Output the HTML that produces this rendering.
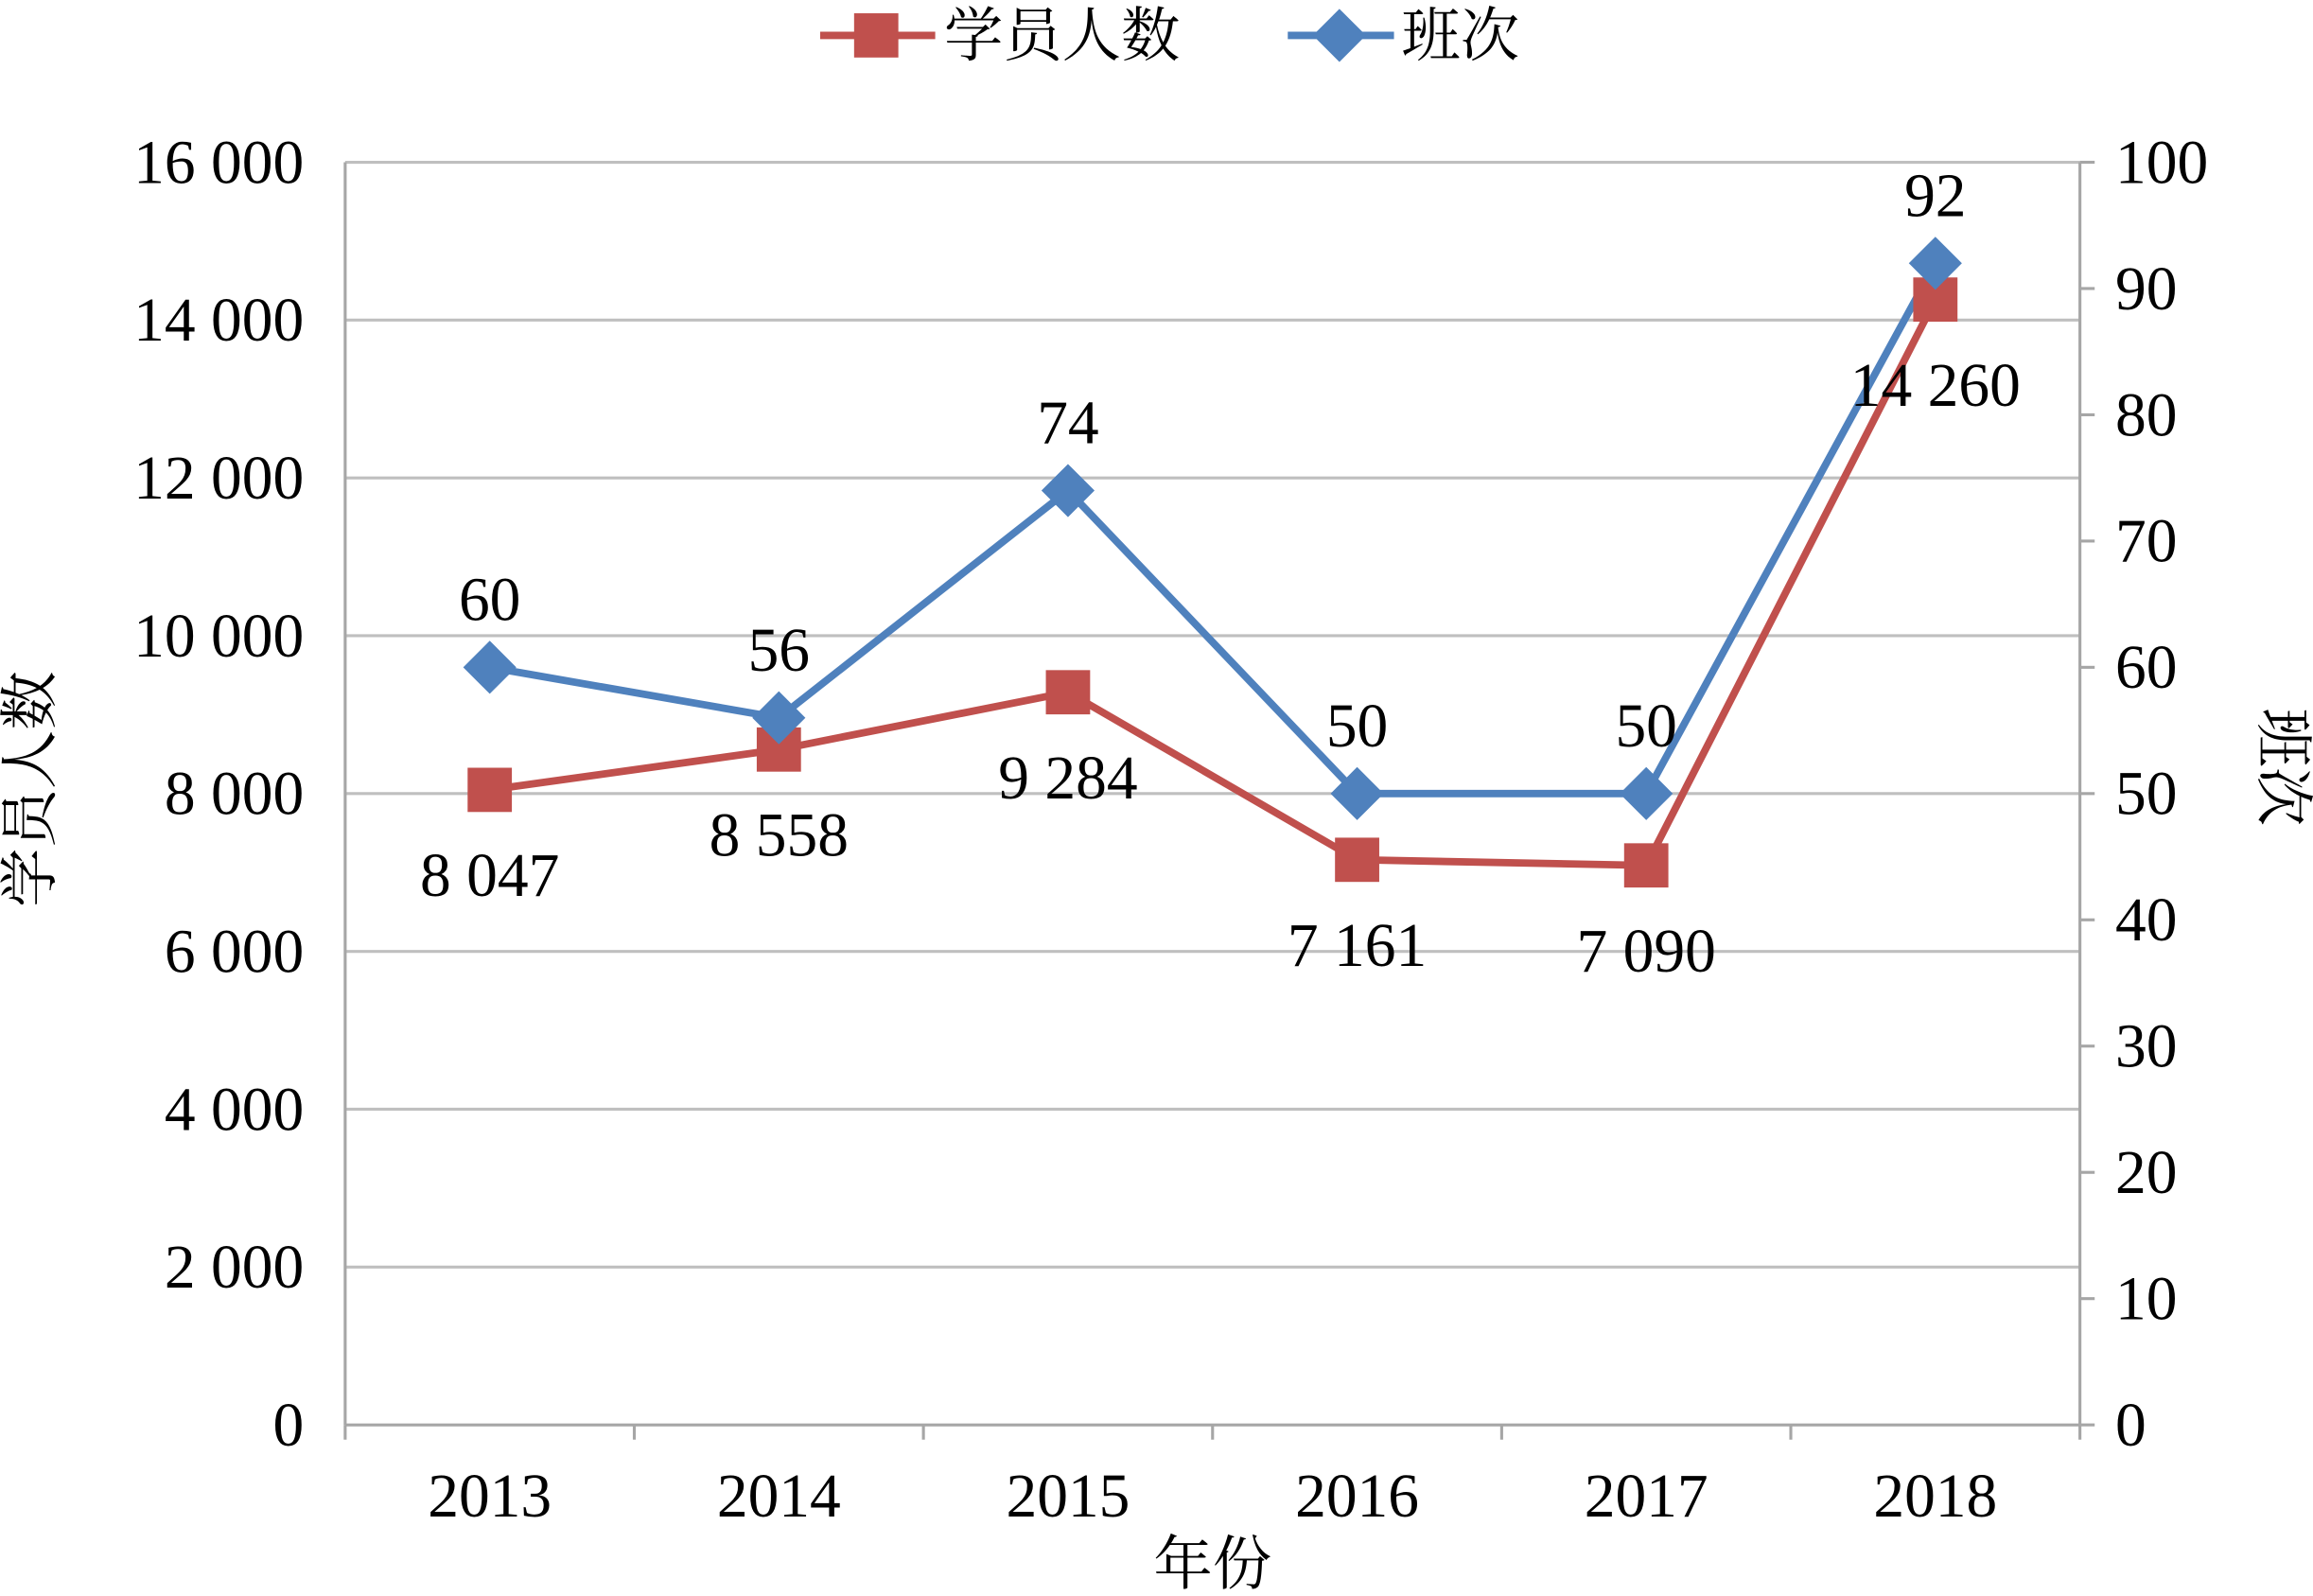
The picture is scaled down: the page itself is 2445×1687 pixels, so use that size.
<!DOCTYPE html>
<html><head><meta charset="utf-8"><style>
html,body{margin:0;padding:0;background:#fff;}
svg{display:block;}
text{font-family:"Liberation Serif","Noto Serif CJK SC",serif;fill:#000;}
</style></head><body>
<svg id="chart" width="2445" height="1687" viewBox="0 0 1568 1082" preserveAspectRatio="none" xmlns="http://www.w3.org/2000/svg">
<g id="grid"></g>
<g id="axes"></g>
<g id="series"></g>
<g id="labels"></g>
<g>
  <line x1="556" y1="24" x2="634" y2="24" stroke="#c0504d" stroke-width="5"/>
  <rect x="579" y="9" width="30" height="30" fill="#c0504d"/>
  <text x="640" y="38" font-size="40" font-family="Noto Serif CJK SC, serif">学员人数</text>
  <line x1="873" y1="24" x2="945" y2="24" stroke="#4f81bd" stroke-width="5"/>
  <polygon points="908,6 926,24 908,42 890,24" fill="#4f81bd"/>
  <text x="950" y="38" font-size="40" font-family="Noto Serif CJK SC, serif">班次</text>
</g>
<text x="34" y="535" font-size="40" text-anchor="middle" transform="rotate(-90 34 535)" font-family="Noto Serif CJK SC, serif">学员人数</text>
<text x="1534" y="520" font-size="40" text-anchor="middle" transform="rotate(90 1534 520)" font-family="Noto Serif CJK SC, serif">班次</text>
<text x="822" y="1074" font-size="40" text-anchor="middle" font-family="Noto Serif CJK SC, serif">年份</text>
</svg>
<script>
const years = ["2013","2014","2015","2016","2017","2018"];
const students = [8047, 8558, 9284, 7161, 7090, 14260];
const classes = [60, 56, 74, 50, 50, 92];
const studentLabels = ["8 047","8 558","9 284","7 161","7 090","14 260"];
const leftTicks = ["0","2 000","4 000","6 000","8 000","10 000","12 000","14 000","16 000"];
const rightTicks = ["0","10","20","30","40","50","60","70","80","90","100"];

const NS = "http://www.w3.org/2000/svg";
const L = 234, R = 1410, T = 110, B = 966;
const yL = v => B - v / 16000 * (B - T);
const yR = v => B - v / 100 * (B - T);
const bw = (R - L) / years.length;
const xC = i => L + bw * (i + 0.5);
function mk(tag, attrs, parent, txt) {
  const e = document.createElementNS(NS, tag);
  for (const k in attrs) e.setAttribute(k, attrs[k]);
  if (txt !== undefined) e.textContent = txt;
  parent.appendChild(e);
  return e;
}
const grid = document.getElementById('grid');
const axes = document.getElementById('axes');
const series = document.getElementById('series');
const labels = document.getElementById('labels');

leftTicks.forEach((t, i) => {
  const y = yL(i * 2000);
  if (i > 0) {
    const g = mk('line', {x1: L, x2: R, y1: y, y2: y, stroke: '#bfbfbf', 'stroke-width': 2}, grid);
    
    
  }
  const tx = mk('text', {x: 206, y: y + 14, 'font-size': 42, 'text-anchor': 'end'}, axes, t);
  
  
});
rightTicks.forEach((t, i) => {
  const y = yR(i * 10);
  mk('line', {x1: R, x2: R + 10, y1: y, y2: y, stroke: '#a6a6a6', 'stroke-width': 2}, axes);
  const tx = mk('text', {x: 1434, y: y + 14, 'font-size': 42}, axes, t);
  
  
});
mk('line', {x1: L, x2: L, y1: T, y2: B, stroke: '#a6a6a6', 'stroke-width': 2}, axes);
mk('line', {x1: R, x2: R, y1: T, y2: B, stroke: '#a6a6a6', 'stroke-width': 2}, axes);
mk('line', {x1: L, x2: R, y1: B, y2: B, stroke: '#a6a6a6', 'stroke-width': 2}, axes);
for (let i = 0; i <= years.length; i++) {
  mk('line', {x1: L + bw * i, x2: L + bw * i, y1: B, y2: B + 10, stroke: '#a6a6a6', 'stroke-width': 2}, axes);
}
years.forEach((yr, i) => {
  const tx = mk('text', {x: xC(i), y: 1028, 'font-size': 42, 'text-anchor': 'middle'}, axes, yr);
  
  
});

// student line
const sp = mk('polyline', {points: students.map((v, i) => xC(i) + ',' + yL(v)).join(' '), fill: 'none', stroke: '#c0504d', 'stroke-width': 5}, series);


const cp = mk('polyline', {points: classes.map((v, i) => xC(i) + ',' + yR(v)).join(' '), fill: 'none', stroke: '#4f81bd', 'stroke-width': 5}, series);



students.forEach((v, i) => {
  const x = xC(i), y = yL(v);
  const m = mk('rect', {x: x - 15, y: y - 15, width: 30, height: 30, fill: '#c0504d'}, series);
  
  
  const lb = mk('text', {x: x, y: y + 72, 'font-size': 42, 'text-anchor': 'middle'}, labels, studentLabels[i]);
  
  
});
classes.forEach((v, i) => {
  const x = xC(i), y = yR(v);
  const m = mk('polygon', {points: `${x},${y-18} ${x+18},${y} ${x},${y+18} ${x-18},${y}`, fill: '#4f81bd'}, series);
  
  
  const lb = mk('text', {x: x, y: y - 32, 'font-size': 42, 'text-anchor': 'middle'}, labels, String(v));
  
  
});
</script>
</body></html>
